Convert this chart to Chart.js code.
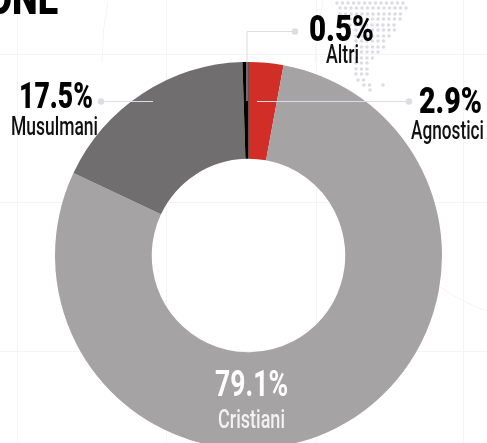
<!DOCTYPE html>
<html lang="it">
<head>
<meta charset="utf-8">
<title>Religioni</title>
<script src="https://cdn.jsdelivr.net/npm/chart.js@4"></script>
<style>
  html, body { margin: 0; padding: 0; background: #fff; overflow: hidden; width: 487px; height: 443px; }
  #chart { position: absolute; left: 0; top: 0; }
</style>
</head>
<body>
<canvas id="chart" width="497" height="511" style="width:497px;height:511px"></canvas>
<script>
// data, clockwise from 12 o'clock
const categories = ["Agnostici", "Cristiani", "Musulmani", "Altri"];
const shares = [2.9, 79.1, 17.5, 0.5];
const sliceColors = ["#d02e27", "#a5a3a4", "#706e6f", "#000000"];

// =====================
// Decor behind the ring
// =====================
const LINE = "#dcdce4";
const GRID = "#f4f4f6";

// map dots: [y, first x, last x]
const mapRows = [
  [3, 337, 407], [8, 340, 407], [14, 340, 405], [19, 345, 402], [25, 350, 398],
  [30, 356, 396], [36, 356, 392], [41, 356, 388], [47, 356, 384], [52, 356, 378],
  [58, 356, 374], [63, 356, 370], [69, 356, 368], [74, 356, 368], [80, 358, 366],
  [85, 364, 370], [90, 370, 375]
];

const backdrop = {
  id: "backdrop",
  beforeDraw(chart) {
    const c = chart.ctx;
    c.save();
    c.strokeStyle = GRID;
    c.lineWidth = 1;
    [17, 166, 316, 463].forEach(x => {
      c.beginPath(); c.moveTo(x + .5, 0); c.lineTo(x + .5, 443); c.stroke();
    });
    [54, 202, 351].forEach(y => {
      c.beginPath(); c.moveTo(0, y + .5); c.lineTo(487, y + .5); c.stroke();
    });
    c.beginPath(); c.moveTo(108, 0); c.quadraticCurveTo(102, 30, 102, 62); c.stroke();
    c.beginPath(); c.moveTo(323, 0); c.quadraticCurveTo(316, 30, 315, 62); c.stroke();
    c.beginPath(); c.moveTo(440, 287); c.quadraticCurveTo(462, 302, 487, 311); c.stroke();

    c.fillStyle = LINE;
    mapRows.forEach(([y, from, to]) => {
      for (let x = from; x <= to; x += 5.5) {
        c.beginPath(); c.arc(x, y, 1.8, 0, Math.PI * 2); c.fill();
      }
    });
    c.beginPath(); c.arc(383, 85, 1.8, 0, Math.PI * 2); c.fill();
    c.restore();
  }
};

// =====================
// Leaders and labels
// =====================
const PCT = "900 36px Roboto";
const NAME = "500 26px Roboto";

function fitText(c, txt, font, color, left, width, baseline) {
  c.font = font;
  c.fillStyle = color;
  c.textAlign = "left";
  c.textBaseline = "alphabetic";
  c.save();
  c.translate(left, baseline);
  c.scale(width / c.measureText(txt).width, 1);
  c.fillText(txt, 0, 0);
  c.restore();
}

function leader(c, pts) {
  c.beginPath();
  pts.forEach(([x, y], i) => (i ? c.lineTo(x, y) : c.moveTo(x, y)));
  c.stroke();
  const [dx, dy] = pts[0];
  c.beginPath(); c.arc(dx, dy, 3.2, 0, Math.PI * 2); c.fill();
}

const annotations = {
  id: "annotations",
  afterDatasetsDraw(chart) {
    const c = chart.ctx;
    c.save();
    c.strokeStyle = LINE;
    c.fillStyle = LINE;
    c.lineWidth = 1;
    leader(c, [[295, 31.5], [247, 31.5], [247, 101]]);
    leader(c, [[101, 101.5], [153, 101.5]]);
    leader(c, [[409, 101.5], [257, 101.5]]);

    const pct = i => shares[i].toFixed(1) + "%";
    fitText(c, pct(3), PCT, "#000", 309, 65, 41);
    fitText(c, categories[3], NAME, "#111", 326, 33, 63);
    fitText(c, pct(2), PCT, "#000", 19, 74, 108);
    fitText(c, categories[2], NAME, "#111", 11, 87, 135);
    fitText(c, pct(0), PCT, "#000", 419, 63, 113);
    fitText(c, categories[0], NAME, "#111", 411, 73, 139);
    fitText(c, pct(1), "bold 36px Roboto", "#fff", 215, 73, 396);
    fitText(c, categories[1], NAME, "#f2f2f2", 218, 67, 428);

    // title cut off by the crop
    fitText(c, "ONE", "900 46px Roboto", "#000", -13, 71, 14);
    c.restore();
  }
};

new Chart(document.getElementById("chart").getContext("2d"), {
  type: "doughnut",
  data: {
    labels: categories,
    datasets: [{ data: shares, backgroundColor: sliceColors, borderWidth: 0 }]
  },
  options: {
    responsive: false,
    animation: false,
    radius: 193.5,
    cutout: "50%",
    layout: { padding: 0 },
    plugins: { legend: { display: false }, tooltip: { enabled: false } }
  },
  plugins: [backdrop, annotations]
});
</script>
</body>
</html>
